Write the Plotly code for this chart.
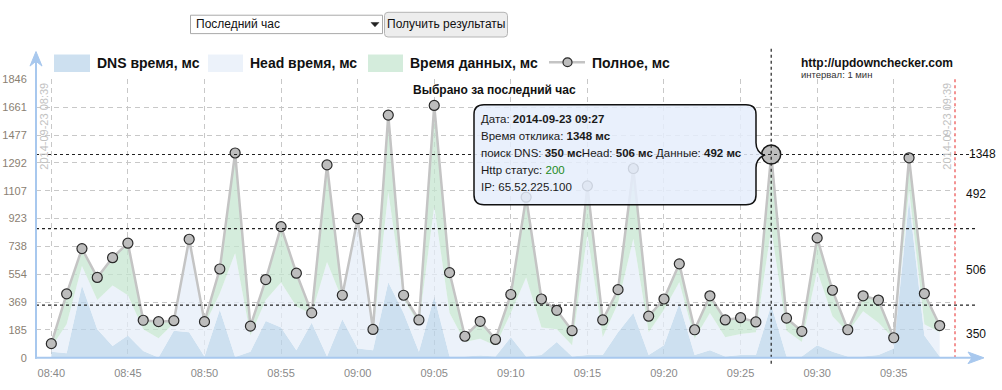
import plotly.graph_objects as go
import pandas as pd

W, H = 1002, 390

# ---------------- data ----------------
times = pd.date_range("2014-09-23 08:40", "2014-09-23 09:38", freq="1min")
dns = [40, 30, 480, 190, 79, 148, 45, 2, 180, 169, 8, 319, 5, 41, 244, 201, 51, 233, 9, 255,
       62, 51, 501, 298, 41, 405, 9, 9, 15, 9, 137, 9, 19, 105, 9, 19, 19, 169, 298, 19,
       84, 362, 19, 51, 9, 19, 19, 350, 9, 9, 84, 41, 9, 9, 19, 62, 1047, 148, 9]
head = [30, 193, 128, 193, 401, 267, 145, 128, 50, 617, 207, 107, 689, 107, 139, 299, 289, 57, 626, 128,
        848, 99, 599, 92, 182, 600, 289, 96, 111, 71, 161, 524, 182, 85, 75, 801, 118, 193, 492, 150,
        235, 139, 107, 247, 128, 139, 150, 506, 171, 96, 492, 235, 160, 299, 214, 64, 65, 75, 160]
data = [24, 201, 116, 150, 184, 345, 59, 110, 16, 0, 25, 163, 664, 62, 136, 370, 221, 8, 644, 32,
        13, 38, 509, 25, 28, 668, 267, 38, 116, 42, 122, 532, 189, 125, 96, 320, 114, 90, 465, 107,
        71, 122, 60, 113, 114, 108, 69, 492, 83, 71, 219, 172, 17, 103, 150, 7, 214, 203, 45]
total = [a + b + c for a, b, c in zip(dns, head, data)]

ytick_vals = [0, 184.6, 369.2, 553.8, 738.4, 923, 1107.6, 1292.2, 1476.8, 1661.4, 1846]
ytick_text = ["0", "185", "369", "554", "738", "923", "1107", "1292", "1477", "1661", "1846"]
xtick_vals = pd.date_range("2014-09-23 08:40", "2014-09-23 09:35", freq="5min")
xtick_text = [t.strftime("%H:%M") for t in xtick_vals]

sel_idx = 47  # 09:27
sel_time = times[sel_idx]

FONT = "Liberation Sans, Arial, sans-serif"

def px(x):
    return x / W

def py(y):
    return 1 - y / H

def path(cmds):
    out = []
    for c in cmds:
        if isinstance(c, str):
            out.append(c)
        else:
            out.append(f"{px(c[0]):.5f},{py(c[1]):.5f}")
    return " ".join(out)

C_DNS = "rgba(186,212,234,0.72)"
C_HEAD = "rgba(228,237,248,0.72)"
C_DATA = "rgba(196,229,206,0.72)"

fig = go.Figure()

fig.add_trace(go.Scatter(x=times, y=dns, stackgroup="one", mode="lines", line=dict(width=0),
                         fillcolor=C_DNS, hoverinfo="skip", showlegend=False))
fig.add_trace(go.Scatter(x=times, y=head, stackgroup="one", mode="lines", line=dict(width=0),
                         fillcolor=C_HEAD, hoverinfo="skip", showlegend=False))
fig.add_trace(go.Scatter(x=times, y=data, stackgroup="one", mode="lines", line=dict(width=0),
                         fillcolor=C_DATA, hoverinfo="skip", showlegend=False))
fig.add_trace(go.Scatter(x=times, y=total, mode="lines+markers",
                         line=dict(color="#c4c4c4", width=2.5),
                         marker=dict(size=10, color="#bdbdbd", line=dict(color="#2a2a2a", width=1.2)),
                         hoverinfo="skip", showlegend=False))
fig.add_trace(go.Scatter(x=[sel_time], y=[total[sel_idx]], mode="markers",
                         marker=dict(size=19, color="#bdbdbd", line=dict(color="#1a1a1a", width=1.5)),
                         hoverinfo="skip", showlegend=False))

shapes = []
annotations = []

# black dotted reference lines for selected point
for v in [dns[sel_idx], dns[sel_idx] + head[sel_idx], total[sel_idx]]:
    shapes.append(dict(type="line", xref="paper", yref="y", x0=px(36), x1=px(975), y0=v, y1=v,
                       line=dict(color="#222", width=1.2, dash="dot"), layer="above"))
shapes.append(dict(type="line", xref="x", yref="paper", x0=sel_time, x1=sel_time, y0=py(44), y1=py(372),
                   line=dict(color="#222", width=1.2, dash="dot"), layer="above"))

# red dotted right boundary
shapes.append(dict(type="line", xref="paper", yref="paper", x0=px(955), x1=px(955), y0=py(75.7), y1=py(363),
                   line=dict(color="#f07070", width=1.5, dash="dot"), layer="above"))

# axes lines with arrows
axc = "#a8c8ee"
shapes.append(dict(type="line", xref="paper", yref="paper", x0=px(36), x1=px(36), y0=py(364), y1=py(52),
                   line=dict(color=axc, width=2), layer="above"))
shapes.append(dict(type="path", xref="paper", yref="paper",
                   path=path(["M", (36, 47), "L", (42, 62), "L", (36, 57), "L", (30, 62), "Z"]),
                   fillcolor=axc, line=dict(color=axc, width=1), layer="above"))
shapes.append(dict(type="line", xref="paper", yref="paper", x0=px(35), x1=px(978), y0=py(363), y1=py(363),
                   line=dict(color=axc, width=2), layer="above"))
shapes.append(dict(type="path", xref="paper", yref="paper",
                   path=path(["M", (984, 363), "L", (968, 357), "L", (972, 363), "L", (968, 369), "Z"]),
                   fillcolor=axc, line=dict(color=axc, width=1), layer="above"))

# tooltip box
tip = ["M", (484, 102), "L", (746, 102), "Q", (756, 102), (756, 112), "L", (756, 141),
       "Q", (756, 150), (764, 154), "Q", (756, 158), (756, 167), "L", (756, 195),
       "Q", (756, 205), (746, 205), "L", (484, 205), "Q", (474, 205), (474, 195),
       "L", (474, 112), "Q", (474, 102), (484, 102), "Z"]
shapes.append(dict(type="path", xref="paper", yref="paper", path=path(tip),
                   fillcolor="rgba(229,238,252,0.86)", line=dict(color="#111", width=1.5), layer="above"))

tip_lines = [
    (117, "Дата: <b>2014-09-23 09:27</b>"),
    (134, "Время отклика: <b>1348 мс</b>"),
    (152, "поиск DNS: <b>350 мс</b>Head: <b>506 мс</b> Данные: <b>492 мс</b>"),
    (169, "Http статус: <span style='color:#1d8a1d'>200</span>"),
    (187, "IP: 65.52.225.100"),
]
for yc, t in tip_lines:
    annotations.append(dict(text=t, xref="paper", yref="paper", x=px(479), y=py(yc), xanchor="left",
                            yanchor="middle", showarrow=False, font=dict(family=FONT, size=11.5, color="#1a1a1a")))

# legend
leg_items = [
    (54, 90, C_DNS, 95, "DNS время, мс"),
    (208, 243, C_HEAD, 248, "Head время, мс"),
    (368, 403, C_DATA, 408, "Время данных, мс"),
]
for x0, x1, col, tx, label in leg_items:
    shapes.append(dict(type="rect", xref="paper", yref="paper", x0=px(x0), x1=px(x1), y0=py(50), y1=py(68),
                       fillcolor=col, line=dict(width=0), layer="above"))
    annotations.append(dict(text=f"<b>{label}</b>", xref="paper", yref="paper", x=px(tx), y=py(58.5),
                            xanchor="left", yanchor="middle", showarrow=False,
                            font=dict(family=FONT, size=14, color="#111")))
shapes.append(dict(type="line", xref="paper", yref="paper", x0=px(549), x1=px(585), y0=py(58), y1=py(58),
                   line=dict(color="#c4c4c4", width=2.5), layer="above"))
shapes.append(dict(type="circle", xref="paper", yref="paper", x0=px(563), x1=px(572), y0=py(53.5), y1=py(62.5),
                   fillcolor="#bdbdbd", line=dict(color="#2a2a2a", width=1.2), layer="above"))
annotations.append(dict(text="<b>Полное, мс</b>", xref="paper", yref="paper", x=px(590), y=py(58.5),
                        xanchor="left", yanchor="middle", showarrow=False,
                        font=dict(family=FONT, size=14, color="#111")))

# site label
annotations.append(dict(text="<b>http://updownchecker.com</b>", xref="paper", yref="paper", x=px(799), y=py(59),
                        xanchor="left", yanchor="middle", showarrow=False,
                        font=dict(family=FONT, size=12, color="#111")))
annotations.append(dict(text="интервал: 1 мин", xref="paper", yref="paper", x=px(799), y=py(70.5),
                        xanchor="left", yanchor="middle", showarrow=False,
                        font=dict(family=FONT, size=9.5, color="#333")))

# chart title
annotations.append(dict(text="<b>Выбрано за последний час</b>", xref="paper", yref="paper", x=px(494), y=py(87),
                        xanchor="center", yanchor="middle", showarrow=False,
                        font=dict(family=FONT, size=12, color="#111")))

# rotated date labels
for xc, t in [(44, "2014-09-23 08:39"), (947, "2014-09-23 09:39")]:
    annotations.append(dict(text=t, xref="paper", yref="paper", x=px(xc), y=py(124.5), textangle=-90,
                            xanchor="center", yanchor="middle", showarrow=False,
                            font=dict(family=FONT, size=11, color="#c2c2c2")))

# right side value labels
sel_dns = dns[sel_idx]
sel_cum = dns[sel_idx] + head[sel_idx]
sel_tot = total[sel_idx]
annotations.append(dict(text=str(sel_tot), xref="paper", yref="y", x=px(998), y=sel_tot, xanchor="right",
                        yanchor="middle", showarrow=False, font=dict(family=FONT, size=12, color="#111")))
for lo, hi, val in [(sel_cum, sel_tot, data[sel_idx]), (sel_dns, sel_cum, head[sel_idx]), (0, sel_dns, sel_dns)]:
    annotations.append(dict(text=str(val), xref="paper", yref="y", x=px(964), y=(lo + hi) / 2 - 18,
                            xanchor="left", yanchor="middle", showarrow=False,
                            font=dict(family=FONT, size=12, color="#111")))

# top controls: select + button
shapes.append(dict(type="rect", xref="paper", yref="paper", x0=px(190.5), x1=px(382.5), y0=py(9.5), y1=py(28.5),
                   fillcolor="#ffffff", line=dict(color="#a9a9a9", width=1), layer="above"))
shapes.append(dict(type="path", xref="paper", yref="paper",
                   path=path(["M", (371, 17), "L", (379, 17), "L", (375, 21.5), "Z"]),
                   fillcolor="#222", line=dict(color="#222", width=0.5), layer="above"))
annotations.append(dict(text="Последний час", xref="paper", yref="paper", x=px(194), y=py(19), xanchor="left",
                        yanchor="middle", showarrow=False, font=dict(family=FONT, size=12, color="#111")))
shapes.append(dict(type="path", xref="paper", yref="paper",
                   path=path(["M", (388, 6.5), "L", (504, 6.5), "Q", (507.5, 6.5), (507.5, 10), "L", (507.5, 28.5),
                              "Q", (507.5, 32), (504, 32), "L", (388, 32), "Q", (384.5, 32), (384.5, 28.5),
                              "L", (384.5, 10), "Q", (384.5, 6.5), (388, 6.5), "Z"]),
                   fillcolor="#ededed", line=dict(color="#b5b5b5", width=1), layer="above"))
annotations.append(dict(text="Получить результаты", xref="paper", yref="paper", x=px(446), y=py(19),
                        xanchor="center", yanchor="middle", showarrow=False,
                        font=dict(family=FONT, size=12, color="#111")))

fig.update_layout(
    width=W, height=H, autosize=False,
    margin=dict(l=0, r=0, t=0, b=0, pad=0),
    paper_bgcolor="white", plot_bgcolor="white",
    showlegend=False,
    shapes=shapes, annotations=annotations,
    xaxis=dict(type="date", domain=[px(36), px(955)],
               range=["2014-09-23 08:39:00", "2014-09-23 09:39:00"],
               tickmode="array", tickvals=list(xtick_vals), ticktext=xtick_text,
               showgrid=True, gridcolor="#c8c8c8", griddash="5px,4px", gridwidth=1,
               zeroline=False, showline=False, ticks="outside", ticklen=5, tickcolor="rgba(0,0,0,0)",
               tickfont=dict(family=FONT, size=11, color="#8a8a8a")),
    yaxis=dict(domain=[py(363), py(75.7)], range=[0, 1846],
               tickmode="array", tickvals=ytick_vals, ticktext=ytick_text,
               showgrid=True, gridcolor="#c8c8c8", griddash="5px,4px", gridwidth=1,
               zeroline=False, showline=False, ticks="outside", ticklen=6, tickcolor="rgba(0,0,0,0)",
               tickfont=dict(family=FONT, size=11, color="#8a8072")),
)

fig.write_html("out.html")
